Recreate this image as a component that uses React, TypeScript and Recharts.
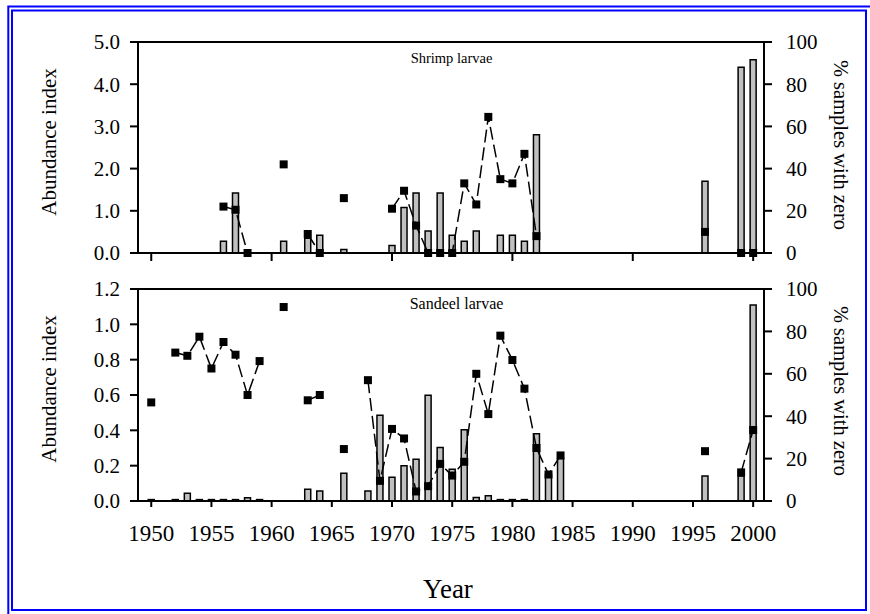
import React from 'react';
import {
  ComposedChart,
  Bar,
  Line,
  XAxis,
  YAxis,
  ReferenceLine,
} from 'recharts';

// Shrimp larvae: abundance index (bars, left axis) and % samples with zero (points, right axis)
const shrimpYears = [1956, 1957, 1958, 1961, 1963, 1964, 1966, 1970, 1971, 1972, 1973, 1974, 1975, 1976, 1977, 1978, 1979, 1980, 1981, 1982, 1996, 1999, 2000];
const shrimpAbundance = [0.28, 1.42, 0, 0.28, 0.35, 0.42, 0.08, 0.18, 1.08, 1.42, 0.52, 1.42, 0.42, 0.28, 0.52, 0, 0.42, 0.42, 0.28, 2.8, 1.7, 4.4, 4.58];
const shrimpZero = [22, 20.5, 0, 42, 9, 0, 26, 21, 29.5, 13, 0, 0, 0, 33, 23, 64.5, 35, 33, 47, 8, 10, 0, 0];

// Sandeel larvae
const sandeelYears = [1950, 1952, 1953, 1954, 1955, 1956, 1957, 1958, 1959, 1961, 1963, 1964, 1966, 1968, 1969, 1970, 1971, 1972, 1973, 1974, 1975, 1976, 1977, 1978, 1979, 1980, 1981, 1982, 1983, 1984, 1996, 1999, 2000];
const sandeelAbundance = [0.008, 0.008, 0.044, 0.008, 0.008, 0.008, 0.008, 0.019, 0.008, 0, 0.066, 0.057, 0.157, 0.057, 0.485, 0.135, 0.2, 0.237, 0.598, 0.303, 0.18, 0.403, 0.02, 0.03, 0.008, 0.008, 0.008, 0.38, 0.15, 0.24, 0.142, 0.142, 1.11];
const sandeelZero = [46.5, 70, 68.5, 77.5, 62.5, 75, 69, 50, 66, 91.5, 47.5, 50, 24.5, 57, 9.5, 34, 29.5, 4.5, 7, 17.5, 12, 18.5, 60, 41, 78, 66.5, 53, 25, 12.5, 21.5, 23.5, 13.5, 33.5];

const firstYear = 1950;
const lastYear = 2000;
const topTicks = [1950, 1960, 1970, 1980, 1990, 2000];
const bottomTicks = [1950, 1955, 1960, 1965, 1970, 1975, 1980, 1985, 1990, 1995, 2000];
const shrimpLeftTicks = [0, 1, 2, 3, 4, 5];
const sandeelLeftTicks = [0, 0.2, 0.4, 0.6, 0.8, 1.0, 1.2];
const zeroTicks = [0, 20, 40, 60, 80, 100];

const FONT = 'Liberation Serif, Times New Roman, Times, serif';

function buildTable(years: number[], abundance: number[], zero: number[]) {
  const rows = [];
  for (let y = firstYear; y <= lastYear; y++) {
    const i = years.indexOf(y);
    rows.push({
      year: y,
      abundance: i >= 0 ? abundance[i] : null,
      zero: i >= 0 ? zero[i] : null,
    });
  }
  return rows;
}

const shrimpData = buildTable(shrimpYears, shrimpAbundance, shrimpZero);
const sandeelData = buildTable(sandeelYears, sandeelAbundance, sandeelZero);

const SquareDot = (props: any) => {
  const { cx, cy, value, index } = props;
  if (value == null || cy == null || cx == null) return <g key={'d' + index} />;
  return <rect key={'d' + index} x={cx - 4} y={cy - 4} width={8} height={8} fill="#000" />;
};

interface PanelProps {
  data: any[];
  leftMax: number;
  leftTicks: number[];
  xTicks: number[];
  showXLabels: boolean;
  top: number;
  marginTop: number;
  height: number;
  xAxisHeight: number;
}

const Panel = ({ data, leftMax, leftTicks, xTicks, showXLabels, top, marginTop, height, xAxisHeight }: PanelProps) => {
  const tickStyle = { fill: '#000', fontSize: 21, fontFamily: FONT, style: { fontFamily: FONT } };
  return (
    <div style={{ position: 'absolute', left: 0, top }}>
      <ComposedChart
        width={870}
        height={height}
        data={data}
        margin={{ top: marginTop, right: 0, bottom: 0, left: 0 }}
        style={{ fontFamily: FONT }}
      >
        <XAxis
          dataKey="year"
          type="number"
          domain={[1948.9, 2000.9]}
          ticks={xTicks}
          interval={0}
          height={xAxisHeight}
          axisLine={{ stroke: '#000', strokeWidth: 2 }}
          tickLine={{ stroke: '#000', strokeWidth: 2 }}
          tickSize={showXLabels ? 6 : 8}
          tickMargin={18}
          tick={{ fill: '#000', fontSize: 23, fontFamily: FONT, style: { fontFamily: FONT } }}
          tickFormatter={(v: number) => (showXLabels ? String(v) : '')}
        />
        <YAxis
          yAxisId="left"
          orientation="left"
          domain={[0, leftMax]}
          ticks={leftTicks}
          interval={0}
          width={138}
          axisLine={{ stroke: '#000', strokeWidth: 2 }}
          tickLine={{ stroke: '#000', strokeWidth: 2 }}
          tickSize={8}
          tickMargin={10}
          tick={tickStyle}
          tickFormatter={(v: number) => v.toFixed(1)}
        />
        <YAxis
          yAxisId="right"
          orientation="right"
          domain={[0, 100]}
          ticks={zeroTicks}
          interval={0}
          width={106}
          axisLine={{ stroke: '#000', strokeWidth: 2 }}
          tickLine={{ stroke: '#000', strokeWidth: 2 }}
          tickSize={8}
          tickMargin={14}
          tick={tickStyle}
        />
        <ReferenceLine yAxisId="left" y={leftMax} stroke="#000" strokeWidth={2} />
        <Bar
          yAxisId="left"
          dataKey="abundance"
          barSize={6}
          fill="#c0c0c0"
          stroke="#000"
          strokeWidth={1.5}
          isAnimationActive={false}
        />
        <Line
          yAxisId="right"
          dataKey="zero"
          type="linear"
          stroke="#000"
          strokeWidth={1.5}
          strokeDasharray="13 5"
          connectNulls={false}
          dot={SquareDot}
          activeDot={false}
          isAnimationActive={false}
        />
      </ComposedChart>
    </div>
  );
};

export default function App() {
  return (
    <div style={{ position: 'relative', width: 870, height: 614, background: '#fff', overflow: 'hidden', fontFamily: FONT }}>
      <style>{'body{margin:0}'}</style>
      <Panel
        data={shrimpData}
        leftMax={5}
        leftTicks={shrimpLeftTicks}
        xTicks={topTicks}
        showXLabels={false}
        top={0}
        marginTop={42}
        height={42 + 211 + 20}
        xAxisHeight={20}
      />
      <Panel
        data={sandeelData}
        leftMax={1.2}
        leftTicks={sandeelLeftTicks}
        xTicks={bottomTicks}
        showXLabels={true}
        top={270}
        marginTop={19}
        height={19 + 212 + 50}
        xAxisHeight={50}
      />
      <svg
        width={870}
        height={614}
        style={{ position: 'absolute', left: 0, top: 0, pointerEvents: 'none', fontFamily: FONT }}
      >
        <rect x={8.3} y={6.5} width={866} height={612} fill="none" stroke="#0000ff" strokeWidth={2} />
        <rect x={12} y={10.5} width={854} height={599.5} fill="none" stroke="#0000ff" strokeWidth={2} />
        <text x={451.5} y={63.3} textAnchor="middle" fontSize={14.5} fill="#000">Shrimp larvae</text>
        <text x={456.5} y={309} textAnchor="middle" fontSize={16} fill="#000">Sandeel larvae</text>
        <text
          transform="translate(49,142) rotate(-90)"
          textAnchor="middle"
          dominantBaseline="central"
          fontSize={21}
          fill="#000"
        >
          Abundance index
        </text>
        <text
          transform="translate(49,389) rotate(-90)"
          textAnchor="middle"
          dominantBaseline="central"
          fontSize={21}
          fill="#000"
        >
          Abundance index
        </text>
        <text
          transform="translate(840.5,145) rotate(90)"
          textAnchor="middle"
          dominantBaseline="central"
          fontSize={20.5}
          fill="#000"
        >
          % samples with zero
        </text>
        <text
          transform="translate(840.5,391) rotate(90)"
          textAnchor="middle"
          dominantBaseline="central"
          fontSize={20.5}
          fill="#000"
        >
          % samples with zero
        </text>
        <text x={448} y={598} textAnchor="middle" fontSize={27} fill="#000">Year</text>
      </svg>
    </div>
  );
}
